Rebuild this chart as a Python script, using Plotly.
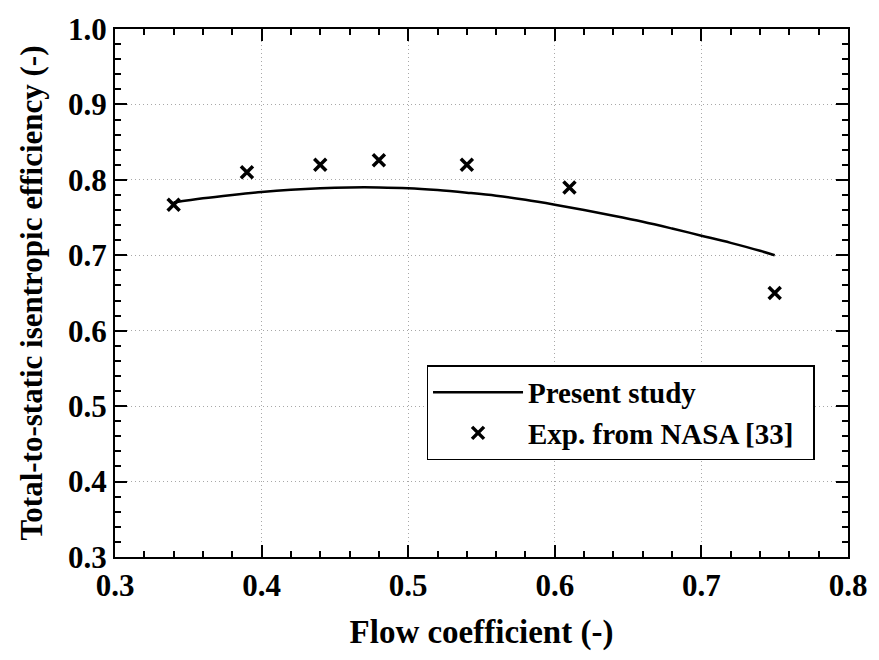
import plotly.graph_objects as go

# Present study (CFD line)
phi_line = [0.34, 0.36, 0.38, 0.40, 0.42, 0.44, 0.46, 0.48, 0.50, 0.52, 0.54,
            0.56, 0.58, 0.60, 0.62, 0.64, 0.66, 0.68, 0.70, 0.72, 0.74, 0.75]
eff_line = [0.770, 0.7755, 0.780, 0.784, 0.787, 0.789, 0.790, 0.790, 0.789, 0.7865, 0.783,
            0.779, 0.7735, 0.767, 0.760, 0.7525, 0.7445, 0.7355, 0.726, 0.7165, 0.706, 0.700]

# Experimental data
phi_exp = [0.34, 0.39, 0.44, 0.48, 0.54, 0.61, 0.75]
eff_exp = [0.767, 0.810, 0.820, 0.826, 0.820, 0.790, 0.650]

x_ticks = [0.3, 0.4, 0.5, 0.6, 0.7, 0.8]
y_ticks = [0.3, 0.4, 0.5, 0.6, 0.7, 0.8, 0.9, 1.0]

FONT = "Liberation Serif"
NB = "\u00a0"

fig = go.Figure()
fig.add_trace(go.Scatter(
    x=phi_line, y=eff_line, mode="lines", name="<b>Present study</b>",
    line=dict(color="black", width=2.5, shape="spline", smoothing=1),
))
fig.add_trace(go.Scatter(
    x=phi_exp, y=eff_exp, mode="markers", name="<b>Exp. from NASA [33]</b>" + NB * 2,
    marker=dict(symbol="x-thin", size=12, color="black",
                line=dict(color="black", width=3.5)),
))

axis_common = dict(
    showline=True, linecolor="black", linewidth=2, mirror="allticks",
    ticks="inside", ticklen=12, tickwidth=2, tickcolor="black",
    showgrid=True, gridcolor="#a8a8a8", gridwidth=1, griddash="1px,3px",
    zeroline=False,
    tickfont=dict(family=FONT, size=31, color="black", weight="bold"),
    minor=dict(ticks="inside", ticklen=6, tickwidth=1.5, tickcolor="black",
               showgrid=False),
)

fig.update_xaxes(
    range=[0.3, 0.8], tickvals=x_ticks, ticktext=[f"{v:.1f}" for v in x_ticks],
    minor_dtick=0.02,
    title=dict(text="<b>Flow coefficient (-)</b>",
               font=dict(family=FONT, size=33, color="black"), standoff=18),
    **axis_common,
)
fig.update_yaxes(
    range=[0.3, 1.0], tickvals=y_ticks, ticktext=[f"{v:.1f}" for v in y_ticks],
    minor_dtick=0.02,
    title=dict(text="<b>Total-to-static isentropic efficiency (-)</b>",
               font=dict(family=FONT, size=31, color="black"), standoff=16),
    **axis_common,
)

fig.update_layout(
    width=879, height=660,
    margin=dict(l=115, r=20, t=24, b=103),
    paper_bgcolor="white", plot_bgcolor="white",
    font=dict(family=FONT, color="black"),
    showlegend=True,
    legend=dict(
        x=0.425, y=0.363, xanchor="left", yanchor="top",
        bgcolor="white", bordercolor="black", borderwidth=1.5,
        font=dict(family=FONT, size=29, color="black"),
        itemwidth=90, tracegroupgap=0,
    ),
)

fig.write_html("out.html")
